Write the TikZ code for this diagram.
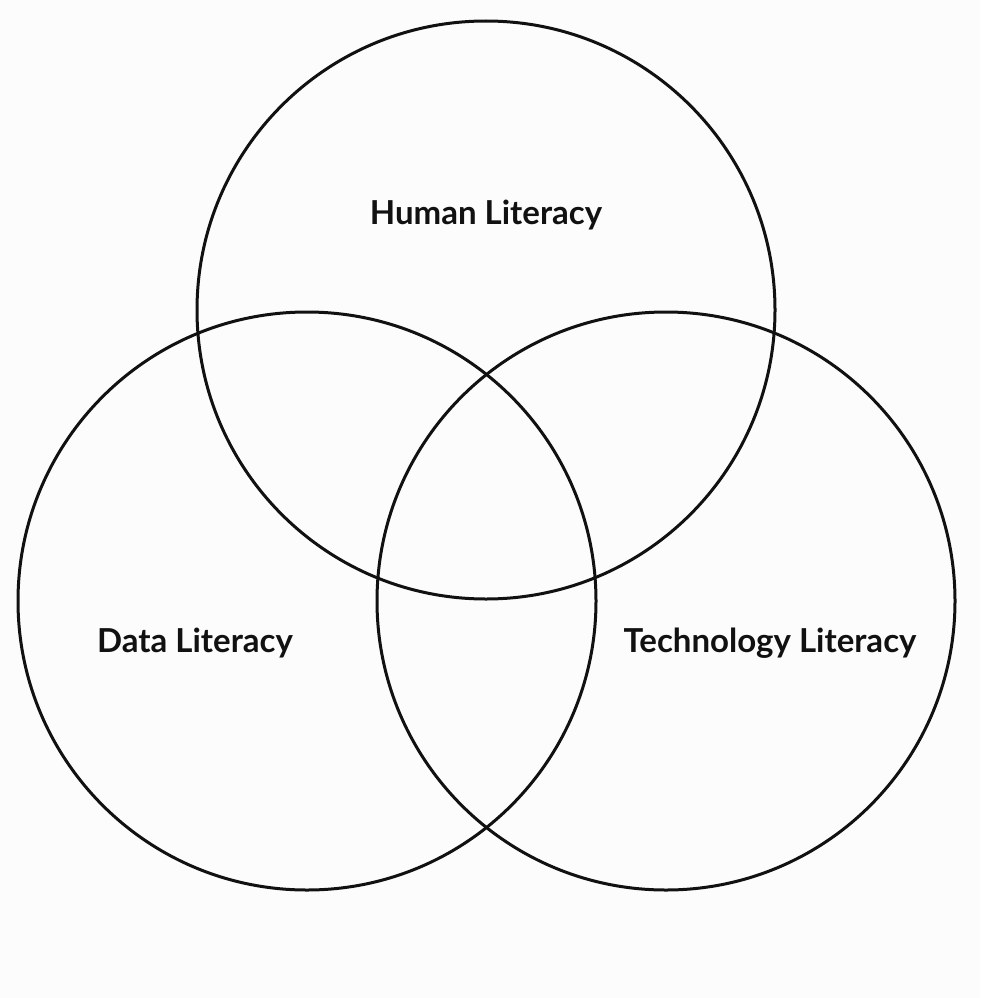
\documentclass[tikz,border=0pt]{standalone}
\usepackage{fontspec}
\setmainfont{Lato}[UprightFont=* Bold]
\definecolor{bg}{HTML}{FCFCFC}
\definecolor{ink}{HTML}{111111}
\begin{document}
\begin{tikzpicture}[x=1pt,y=-1pt,
  ring/.style={circle,draw=ink,line width=3pt,minimum size=#1,inner sep=0pt},
  lbl/.style={font=\fontsize{33}{38}\selectfont,text=ink,inner sep=0pt}]
\fill[bg] (0,0) rectangle (980,998);
\useasboundingbox (0,0) rectangle (980,998);
\node[ring=578pt] (hum) at (486,310) {};
\node[ring=578pt] (dat) at (307,601) {};
\node[ring=578pt] (tec) at (666,601) {};
\node[lbl] (hl) at (486,215) {Human Literacy};
\node[lbl] (dl) at (195,643) {Data Literacy};
\node[lbl] (tl) at (770,643) {Technology Literacy};
\end{tikzpicture}
\end{document}
